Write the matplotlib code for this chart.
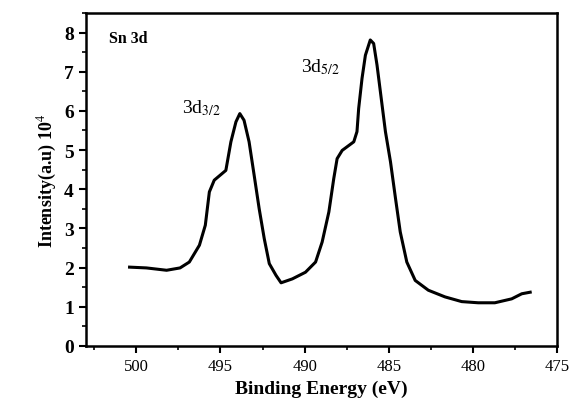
import matplotlib.pyplot as plt
from matplotlib.ticker import MultipleLocator

# Sn 3d XPS spectrum
energy = [500.4, 499.4, 498.2, 497.4, 496.85, 496.25, 495.9, 495.66, 495.37, 494.68,
          494.38, 494.08, 493.85, 493.6, 493.3, 493.0, 492.7, 492.4, 492.1, 491.7,
          491.4, 490.73, 489.95, 489.35, 488.96, 488.56, 488.27, 488.07, 487.77, 487.08,
          486.89, 486.79, 486.59, 486.39, 486.1, 485.9, 485.7, 485.5, 485.2, 484.9,
          484.6, 484.32, 483.93, 483.43, 482.65, 481.66, 480.67, 479.69, 478.7, 477.7,
          477.1, 476.6]
intensity = [2.01, 1.99, 1.93, 1.99, 2.14, 2.57, 3.08, 3.93, 4.23, 4.48,
             5.21, 5.72, 5.93, 5.76, 5.21, 4.36, 3.5, 2.74, 2.1, 1.8,
             1.61, 1.71, 1.88, 2.14, 2.65, 3.42, 4.27, 4.78, 4.99, 5.21,
             5.47, 6.06, 6.83, 7.42, 7.81, 7.72, 7.17, 6.49, 5.47, 4.7,
             3.76, 2.91, 2.14, 1.67, 1.42, 1.25, 1.13, 1.1, 1.1, 1.2,
             1.33, 1.37]

x_ticks = [500, 495, 490, 485, 480, 475]
y_ticks = [0, 1, 2, 3, 4, 5, 6, 7, 8]

plt.rcParams['font.family'] = ['Liberation Serif', 'DejaVu Serif']
plt.rcParams['mathtext.fontset'] = 'stix'

fig = plt.figure(figsize=(5.72, 4.10), dpi=100)
ax = fig.add_axes([0.150, 0.154, 0.824, 0.812])
ax.plot(energy, intensity, color='black', lw=2.2)

ax.set_xlim(503, 475)
ax.set_ylim(0, 8.5)
ax.set_xticks(x_ticks)
ax.set_xticklabels([str(t) for t in x_ticks], fontsize=12)
ax.set_yticks(y_ticks)
ax.set_yticklabels([str(t) for t in y_ticks], fontsize=14, fontweight='bold')
ax.xaxis.set_minor_locator(MultipleLocator(2.5))
ax.yaxis.set_minor_locator(MultipleLocator(0.5))
ax.tick_params(which='major', length=5, width=1.5)
ax.tick_params(which='minor', length=3, width=1.2)
for s in ax.spines.values():
    s.set_linewidth(1.8)

ax.set_xlabel('Binding Energy (eV)', fontsize=14, fontweight='bold')
ax.set_ylabel('Intensity(a.u) 10$^4$', fontsize=13, fontweight='bold')

ax.text(501.6, 7.85, 'Sn 3d', fontsize=11.5, fontweight='bold', va='center')
ax.text(497.3, 6.1, '3d$_{3/2}$', fontsize=14, va='center')
ax.text(490.2, 7.15, '3d$_{5/2}$', fontsize=14, va='center')

fig.savefig('out.png', dpi=100)
